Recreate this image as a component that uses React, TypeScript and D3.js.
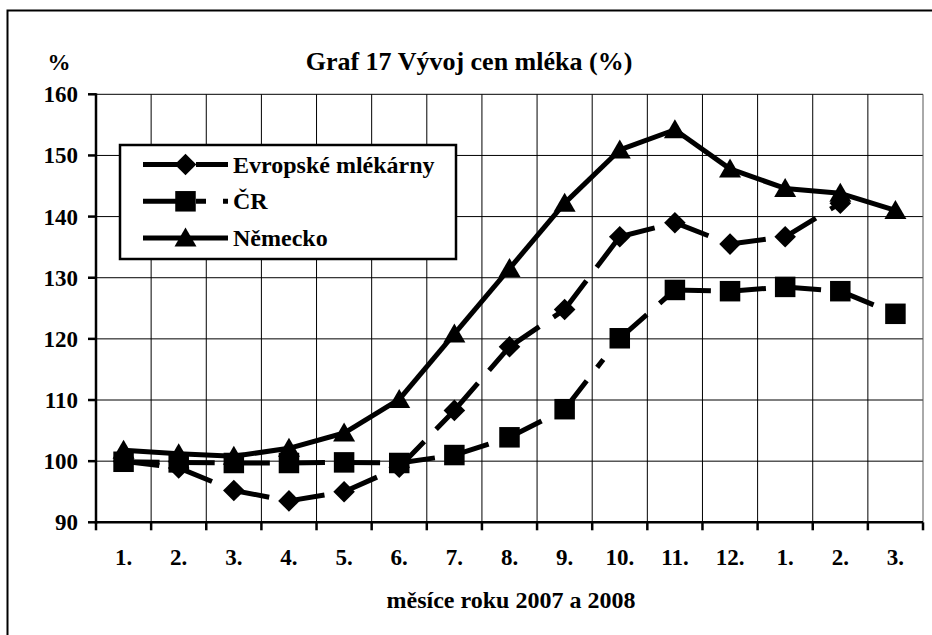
import React from 'react';
import * as d3 from 'd3';

const months = ['1.', '2.', '3.', '4.', '5.', '6.', '7.', '8.', '9.', '10.', '11.', '12.', '1.', '2.', '3.'];
// Evropské mlékárny has no value for 3/2008
const evropske = [100, 98.9, 95.2, 93.5, 95, 99, 108.3, 118.7, 124.8, 136.7, 139, 135.5, 136.7, 142.2];
const cr = [99.9, 99.8, 99.7, 99.7, 99.8, 99.7, 101, 103.9, 108.5, 120.1, 128, 127.8, 128.5, 127.8, 124.1];
const nemecko = [101.8, 101.2, 100.8, 102.1, 104.6, 110.1, 120.8, 131.5, 142.2, 150.9, 154.2, 147.8, 144.6, 143.8, 141];
const yTicks = [90, 100, 110, 120, 130, 140, 150, 160];

const seriesNames = ['Evropské mlékárny', 'ČR', 'Německo'];

const width = 932;
const height = 635;
const font = "'Liberation Serif', 'Times New Roman', 'DejaVu Serif', serif";

const marginLeft = 96;
const marginRight = 9;
const marginTop = 94.3;
const plotBottom = 522.3;

type Shape = 'diamond' | 'square' | 'triangle';

function Marker({ shape, x, y }: { shape: Shape, x: number, y: number }) {
    if (shape === 'diamond') {
        const r = 10.8;
        return <path d={`M${x},${y - r}L${x + r},${y}L${x},${y + r}L${x - r},${y}Z`} fill="#000" />;
    }
    if (shape === 'square') {
        const s = 20.5;
        return <rect x={x - s / 2} y={y - s / 2} width={s} height={s} fill="#000" />;
    }
    return <path d={`M${x},${y - 10.5}L${x + 11},${y + 8.5}L${x - 11},${y + 8.5}Z`} fill="#000" />;
}

const styles: Array<{ shape: Shape, dash: string | undefined, values: number[] }> = [
    { shape: 'diamond', dash: '36,17', values: evropske },
    { shape: 'square', dash: '36,17,10,17', values: cr },
    { shape: 'triangle', dash: undefined, values: nemecko },
];

export default function App() {
    const x = d3.scaleBand<string>()
        .domain(months.map((_m, i) => String(i)))
        .range([marginLeft, width - marginRight]);
    const y = d3.scaleLinear()
        .domain([90, 160])
        .range([plotBottom, marginTop]);

    const cx = (i: number) => (x(String(i)) as number) + x.bandwidth() / 2;
    const bounds = d3.range(months.length + 1).map(i => marginLeft + i * x.bandwidth());

    return (
        <svg width={width} height={height} viewBox={`0 0 ${width} ${height}`}
            style={{ position: 'absolute', left: 0, top: 0, background: '#fff', fontFamily: font, fontWeight: 'bold' }}>
            <rect x={7.5} y={10.5} width={1000} height={1000} fill="#fff" stroke="#000" strokeWidth={2} />

            {/* grid */}
            {yTicks.filter(t => t > 90).map(t => (
                <line key={'h' + t} x1={marginLeft} x2={width - marginRight} y1={y(t)} y2={y(t)} stroke="#000" strokeWidth={1} />
            ))}
            {bounds.slice(1).map((b, i) => (
                <line key={'v' + i} x1={b} x2={b} y1={marginTop} y2={plotBottom}
                    stroke={i === months.length - 1 ? '#555' : '#000'} strokeWidth={1} />
            ))}

            {/* axes */}
            <line x1={marginLeft} x2={marginLeft} y1={marginTop - 1} y2={plotBottom + 1.5} stroke="#000" strokeWidth={2.5} />
            {yTicks.map(t => (
                <g key={'yt' + t}>
                    <line x1={marginLeft - 8} x2={marginLeft} y1={y(t)} y2={y(t)} stroke="#000" strokeWidth={2.5} />
                    <text x={78} y={y(t) + 8} textAnchor="end" fontSize={23}>{t}</text>
                </g>
            ))}
            <line x1={marginLeft} x2={width - marginRight} y1={plotBottom} y2={plotBottom} stroke="#000" strokeWidth={2.5} />
            {bounds.map((b, i) => (
                <line key={'xt' + i} x1={b} x2={b} y1={plotBottom} y2={plotBottom + 8} stroke="#000" strokeWidth={2.5} />
            ))}
            {months.map((m, i) => (
                <text key={'xl' + i} x={cx(i)} y={565} textAnchor="middle" fontSize={23}>{m}</text>
            ))}

            {/* series lines, each segment dashed from its start like the original */}
            {styles.map((s, si) => (
                <g key={'s' + si}>
                    {s.values.slice(1).map((v, i) => (
                        <line key={i} x1={cx(i)} y1={y(s.values[i])} x2={cx(i + 1)} y2={y(v)}
                            stroke="#000" strokeWidth={5} strokeDasharray={s.dash} />
                    ))}
                </g>
            ))}
            {styles.map((s, si) => (
                <g key={'m' + si}>
                    {s.values.map((v, i) => <Marker key={i} shape={s.shape} x={cx(i)} y={y(v)} />)}
                </g>
            ))}

            {/* legend */}
            <rect x={120} y={145} width={336} height={114} fill="#fff" stroke="#000" strokeWidth={2.5} />
            {styles.map((s, i) => {
                const ly = 164.5 + i * 36.8;
                return (
                    <g key={'lg' + i}>
                        <line x1={143} x2={228} y1={ly} y2={ly} stroke="#000" strokeWidth={5} strokeDasharray={s.dash} />
                        <Marker shape={s.shape} x={185.5} y={ly} />
                        <text x={233} y={ly + 8} fontSize={24}>{seriesNames[i]}</text>
                    </g>
                );
            })}

            {/* titles */}
            <text x={59} y={70} textAnchor="middle" fontSize={23}>%</text>
            <text x={469} y={70} textAnchor="middle" fontSize={26}>Graf 17 Vývoj cen mléka (%)</text>
            <text x={511} y={608} textAnchor="middle" fontSize={24}>měsíce roku 2007 a 2008</text>
        </svg>
    );
}
